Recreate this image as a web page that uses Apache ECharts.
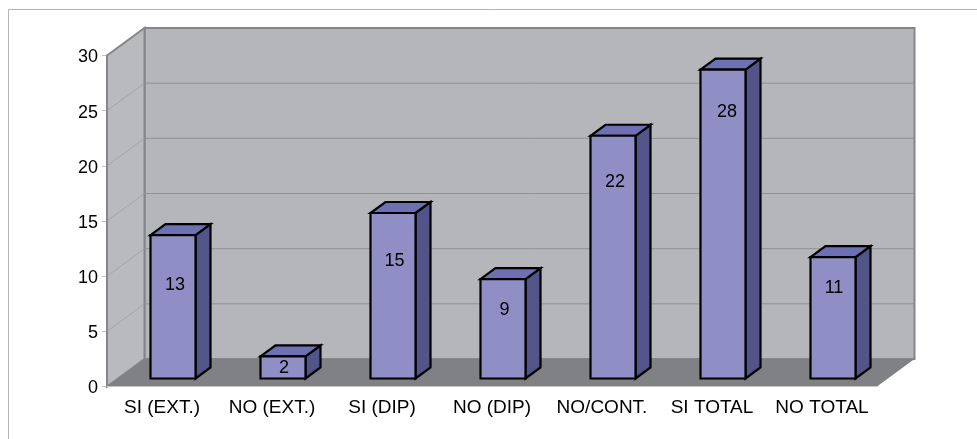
<!DOCTYPE html>
<html>
<head>
<meta charset="utf-8">
<style>html,body{margin:0;padding:0;background:#fff}#main{width:977px;height:439px}</style>
<script src="https://cdn.jsdelivr.net/npm/echarts@6/dist/echarts.min.js"></script>
</head>
<body>
<div id="main"></div>
<script>
var categories = ['SI (EXT.)', 'NO (EXT.)', 'SI (DIP)', 'NO (DIP)', 'NO/CONT.', 'SI TOTAL', 'NO TOTAL'];
var values = [13, 2, 15, 9, 22, 28, 11];
var yTicks = [5, 10, 15, 20, 25];

// where each number sits on its bar in the picture (below the top, right of the middle)
var labelDrop = [50, 12, 48.5, 31, 46.5, 42, 31];
var labelNudge = [2, 1, 1.5, 1.5, 2, 4, 1];

// 3d look
var wallDx = 37.5, wallDy = 27.5;
var barW = 45, barDx = 15, barDy = 11, barInX = 11, barInY = 8;

var myChart = echarts.init(document.getElementById('main'));

function poly(points, fill, stroke, lineWidth) {
    return {
        type: 'polygon',
        shape: { points: points },
        style: { fill: fill, stroke: stroke || null, lineWidth: lineWidth || 0, lineJoin: 'miter' }
    };
}

function renderWalls(params, api) {
    var s = params.coordSys;
    var l = s.x, r = s.x + s.width, t = s.y, b = s.y + s.height;
    return {
        type: 'group',
        children: [
            poly([[l + wallDx, t - wallDy], [r + wallDx, t - wallDy], [r + wallDx, b - wallDy], [l + wallDx, b - wallDy]], '#b5b6ba', '#85868a', 2),
            poly([[l, t], [l + wallDx, t - wallDy], [l + wallDx, b - wallDy], [l, b]], '#b9babe', '#85868a', 2),
            poly([[l, b], [l + wallDx, b - wallDy], [r + wallDx, b - wallDy], [r, b]], '#808184')
        ]
    };
}

function renderGrid(params, api) {
    var s = params.coordSys;
    var y = api.coord([0, api.value(0)])[1];
    return {
        type: 'group',
        children: [
            {
                type: 'line',
                shape: { x1: s.x, y1: y, x2: s.x + wallDx, y2: y - wallDy },
                style: { stroke: '#98999d', lineWidth: 0.7 }
            },
            {
                type: 'line',
                shape: { x1: s.x + wallDx, y1: y - wallDy, x2: s.x + s.width + wallDx, y2: y - wallDy },
                style: { stroke: '#909195', lineWidth: 1 }
            }
        ]
    };
}

function renderBar(params, api) {
    var i = api.value(0);
    var top = api.coord([i, api.value(1)]);
    var base = api.coord([i, 0]);
    var x0 = top[0] - barW / 2 + barInX, x1 = x0 + barW;
    var y0 = top[1] - barInY, y1 = base[1] - barInY;
    return {
        type: 'group',
        children: [
            poly([[x1, y0], [x1 + barDx, y0 - barDy], [x1 + barDx, y1 - barDy], [x1, y1]], '#53548a', '#000', 2.2),
            poly([[x0, y0], [x0 + barDx, y0 - barDy], [x1 + barDx, y0 - barDy], [x1, y0]], '#6e70b4', '#000', 2.2),
            poly([[x0, y0], [x1, y0], [x1, y1], [x0, y1]], '#8f8fc6', '#000', 2.2),
            {
                type: 'text',
                style: {
                    x: (x0 + x1) / 2 + labelNudge[i],
                    y: y0 + labelDrop[i],
                    text: String(api.value(1)),
                    fill: '#000',
                    font: '18px "Liberation Sans", Arial, sans-serif',
                    align: 'center',
                    verticalAlign: 'middle'
                }
            }
        ]
    };
}

var option = {
    animation: false,
    backgroundColor: '#fff',
    graphic: [
        { type: 'line', silent: true, shape: { x1: 8.5, y1: 9.5, x2: 977, y2: 9.5 }, style: { stroke: '#b4b4b4', lineWidth: 1 } },
        { type: 'line', silent: true, shape: { x1: 8.5, y1: 9.5, x2: 8.5, y2: 439 }, style: { stroke: '#b4b4b4', lineWidth: 1 } }
    ],
    grid: { left: 107, right: 100, top: 55.5, bottom: 52.5 },
    xAxis: {
        type: 'category',
        data: categories,
        axisLine: { lineStyle: { color: '#c4c4c4', width: 1 } },
        axisTick: { length: 5, lineStyle: { color: '#c4c4c4' } },
        axisLabel: { color: '#000', fontFamily: 'Liberation Sans', fontSize: 19, margin: 12, interval: 0 },
        z: 5
    },
    yAxis: {
        type: 'value',
        min: 0,
        max: 30,
        interval: 5,
        axisLine: { show: false },
        axisTick: { show: true, length: 5, lineStyle: { color: '#c4c4c4' } },
        axisLabel: {
            margin: 9,
            formatter: '{n|{value}}',
            rich: { n: { color: '#000', fontFamily: 'Liberation Sans', fontSize: 18, padding: [4, 0, 0, 0] } }
        },
        splitLine: { show: false }
    },
    series: [
        { type: 'custom', silent: true, z: 1, renderItem: renderWalls, coordinateSystem: 'cartesian2d', clip: false, data: [[0]], encode: { y: 0 } },
        { type: 'custom', silent: true, z: 2, renderItem: renderGrid, coordinateSystem: 'cartesian2d', clip: false, data: yTicks.map(function (v) { return [v]; }), encode: { y: 0 } },
        {
            type: 'custom', silent: true, z: 3, renderItem: renderBar, coordinateSystem: 'cartesian2d', clip: false,
            data: categories.map(function (c, i) { return [i, values[i]]; }),
            encode: { x: 0, y: 1 }
        }
    ]
};
myChart.setOption(option);
</script>
</body>
</html>
